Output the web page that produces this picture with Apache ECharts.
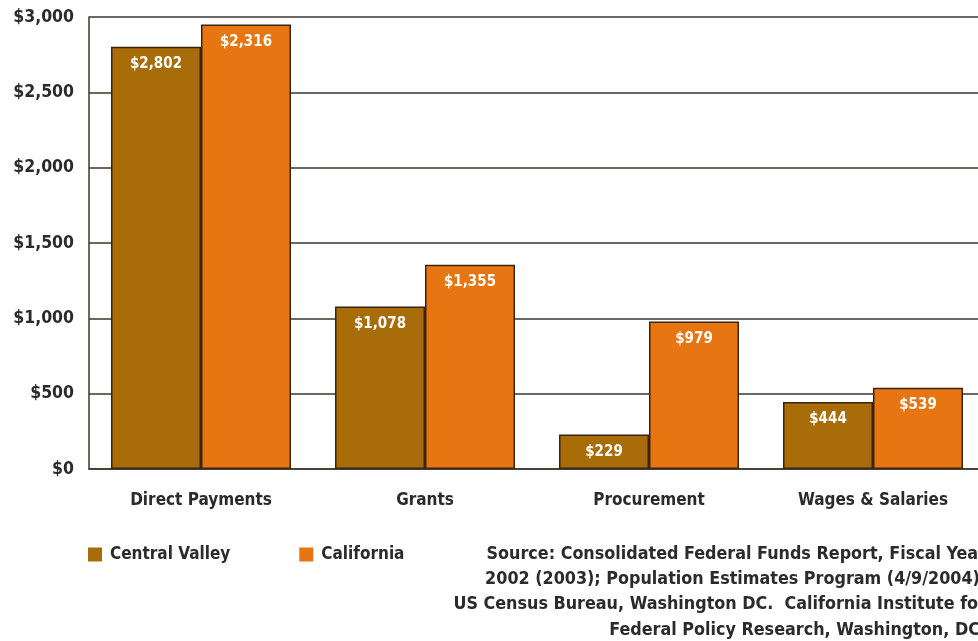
<!DOCTYPE html>
<html><head><meta charset="utf-8">
<script src="https://cdn.jsdelivr.net/npm/echarts@6/dist/echarts.min.js"></script>
<style>html,body{margin:0;padding:0;background:#fff;overflow:hidden;width:978px;height:641px}#c{width:1000px;height:641px}</style>
</head><body><div id="c"></div>
<script>
const categories = ['Direct Payments', 'Grants', 'Procurement', 'Wages & Salaries'];
const seriesNames = ['Central Valley', 'California'];
const centralValley = [2802, 1078, 229, 444];
const california = [2950, 1355, 979, 539];
const centralValleyLabels = ['$2,802', '$1,078', '$229', '$444'];
const californiaLabels = ['$2,316', '$1,355', '$979', '$539'];
const yTicks = [0, 500, 1000, 1500, 2000, 2500, 3000];
const sourceLines = [
  'Source: Consolidated Federal Funds Report, Fiscal Year',
  '2002 (2003); Population Estimates Program (4/9/2004),',
  'US Census Bureau, Washington DC.  California Institute for',
  'Federal Policy Research, Washington, DC.'
];

const FONT = '"DejaVu Sans Condensed", "DejaVu Sans", sans-serif';
const TXT = '#2b2b2b';
const LINE = '#3d342e';
const chart = echarts.init(document.getElementById('c'), null, {renderer: 'canvas'});
function fmt(v){ return '$' + v.toLocaleString('en-US'); }
function mkSeries(name, data, labels, color) {
  return {
    name, type: 'bar', data, barWidth: 90, barGap: '0%',
    itemStyle: {color, borderColor: '#3a2410', borderWidth: 1.5},
    label: {show: true, position: 'insideTop', distance: 10, color: '#fff',
      fontFamily: FONT, fontWeight: 'bold', fontSize: 15,
      formatter: p => labels[p.dataIndex]},
    emphasis: {disabled: true}
  };
}
chart.setOption({
  animation: false,
  backgroundColor: '#fff',
  grid: {left: 89, top: 17, width: 896, bottom: 172, containLabel: false},
  legend: {
    left: 88, top: 546, padding: 0, itemWidth: 14, itemHeight: 14, itemGap: 69, icon: 'rect',
    data: seriesNames,
    itemStyle: {borderWidth: 0},
    textStyle: {fontFamily: FONT, fontWeight: 'bold', fontSize: 17, color: TXT, padding: [0,0,0,3]}
  },
  xAxis: {
    type: 'category', data: categories,
    axisLine: {lineStyle: {color: LINE, width: 1.5}},
    axisTick: {show: false},
    axisLabel: {fontFamily: FONT, fontWeight: 'bold', fontSize: 17, color: TXT, margin: 23}
  },
  yAxis: {
    type: 'value', min: 0, max: 3000, interval: 500,
    axisLine: {show: true, lineStyle: {color: LINE, width: 1.5}},
    axisTick: {show: false},
    splitLine: {lineStyle: {color: LINE, width: 1.5}},
    axisLabel: {fontFamily: FONT, fontWeight: 'bold', fontSize: 17.5, color: TXT, margin: 15,
      formatter: v => yTicks.includes(v) ? fmt(v) : ''}
  },
  graphic: sourceLines.map((t, i) => ({
    type: 'text', right: 14, top: 545 + i * 25.3,
    style: {text: t, fontFamily: FONT, fontWeight: 'bold', fontSize: 17.8, fill: TXT, textAlign: 'right'}
  })),
  series: [
    mkSeries(seriesNames[0], centralValley, centralValleyLabels, '#a86c08'),
    mkSeries(seriesNames[1], california, californiaLabels, '#e67512')
  ]
});
</script></body></html>
